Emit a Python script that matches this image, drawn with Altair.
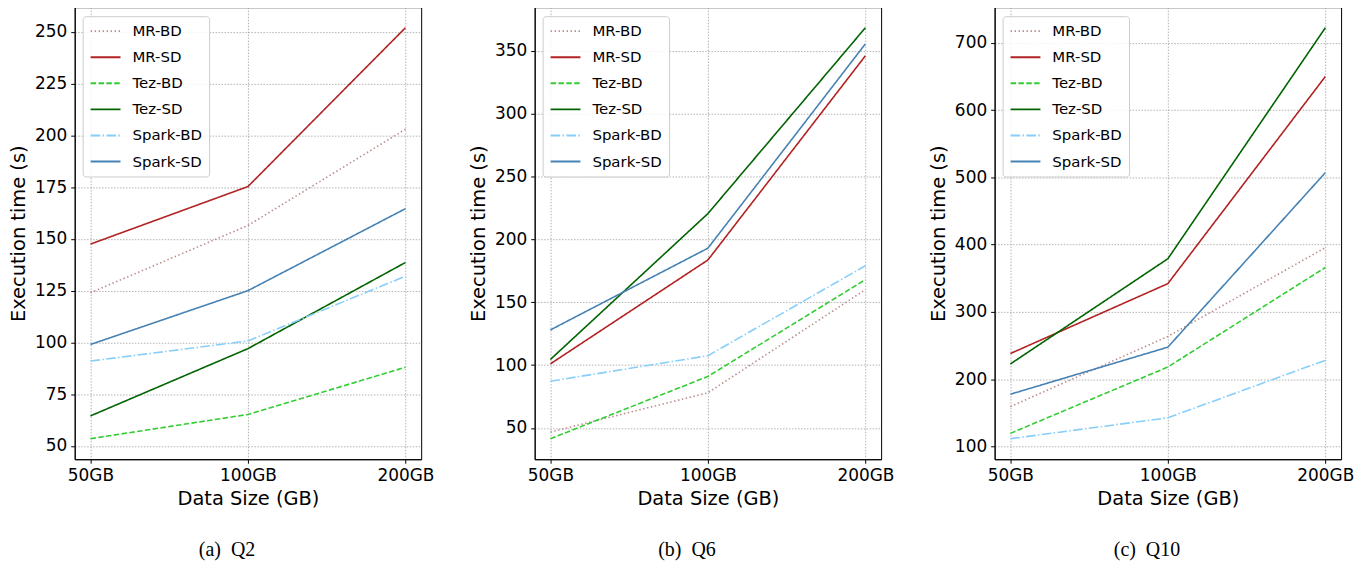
import altair as alt
import pandas as pd

sizes = ["50GB", "100GB", "200GB"]
series = ["MR-BD", "MR-SD", "Tez-BD", "Tez-SD", "Spark-BD", "Spark-SD"]
colors = ["#bc8f8f", "#b22222", "#32cd32", "#006400", "#87cefa", "#4682b4"]
dashes = [[1.5, 2.5], [1, 0], [5.5, 2.4], [1, 0], [9.6, 2.4, 1.5, 2.4], [1, 0]]

# Q2
q2_mr_bd = [124, 156.5, 203]
q2_mr_sd = [147.5, 175.3, 252]
q2_tez_bd = [53.5, 65.2, 88]
q2_tez_sd = [64.5, 97, 138.6]
q2_spark_bd = [91, 100.7, 132]
q2_spark_sd = [99, 125, 164.6]

# Q6
q6_mr_bd = [46.8, 78, 160]
q6_mr_sd = [101, 183.6, 346]
q6_tez_bd = [41.5, 91, 168]
q6_tez_sd = [104.5, 220.5, 368.3]
q6_spark_bd = [87.2, 107.5, 179]
q6_spark_sd = [128, 193, 355.5]

# Q10
q10_mr_bd = [159, 263.5, 395.5]
q10_mr_sd = [238, 342, 650]
q10_tez_bd = [119.3, 218, 366]
q10_tez_sd = [222.5, 379, 722.5]
q10_spark_bd = [111.4, 142.5, 228]
q10_spark_sd = [177.5, 247.5, 507]

q2_ticks = [50, 75, 100, 125, 150, 175, 200, 225, 250]
q6_ticks = [50, 100, 150, 200, 250, 300, 350]
q10_ticks = [100, 200, 300, 400, 500, 600, 700]


def make_df(lists):
    rows = []
    for name, vals in zip(series, lists):
        for s, v in zip(sizes, vals):
            rows.append({"series": name, "size": s, "time": v})
    return pd.DataFrame(rows)


def panel(lists, ticks, caption):
    df = make_df(lists)
    allv = [v for l in lists for v in l]
    lo, hi = min(allv), max(allv)
    m = (hi - lo) * 0.05
    legend = alt.Legend(
        title=None, orient="none", legendX=8, legendY=9,
        symbolType="stroke", symbolSize=900, symbolStrokeWidth=2,
        labelFont="DejaVu Sans", labelFontSize=15, labelColor="black",
        labelOffset=11, clipHeight=16, rowPadding=10.2, padding=7,
        fillColor="rgba(255,255,255,0.85)", strokeColor="#cccccc",
        cornerRadius=3,
    )
    return alt.Chart(df).mark_line(strokeWidth=1.6, clip=True).encode(
        x=alt.X("size:N", sort=sizes,
                scale=alt.Scale(type="point", padding=0.1, domain=sizes),
                axis=alt.Axis(title="Data Size (GB)", labelAngle=0)),
        y=alt.Y("time:Q", scale=alt.Scale(domain=[lo - m, hi + m], nice=False, zero=False),
                axis=alt.Axis(title="Execution time (s)", values=ticks)),
        color=alt.Color("series:N", sort=series,
                        scale=alt.Scale(domain=series, range=colors), legend=legend),
        strokeDash=alt.StrokeDash("series:N", sort=series,
                                  scale=alt.Scale(domain=series, range=dashes), legend=legend),
    ).properties(
        width=348, height=454,
        title=alt.TitleParams(caption, orient="bottom", anchor="middle", dx=-21, offset=33,
                              font="Liberation Serif", fontSize=20, fontWeight="normal", color="black"),
    )


p1 = panel([q2_mr_bd, q2_mr_sd, q2_tez_bd, q2_tez_sd, q2_spark_bd, q2_spark_sd], q2_ticks, "(a)\u00a0\u00a0Q2")
p2 = panel([q6_mr_bd, q6_mr_sd, q6_tez_bd, q6_tez_sd, q6_spark_bd, q6_spark_sd], q6_ticks, "(b)\u00a0\u00a0Q6")
p3 = panel([q10_mr_bd, q10_mr_sd, q10_tez_bd, q10_tez_sd, q10_spark_bd, q10_spark_sd], q10_ticks, "(c)\u00a0\u00a0Q10")

chart = alt.hconcat(p1, p2, p3, spacing=114, bounds="flush").resolve_scale(
    y="independent", color="independent", strokeDash="independent"
).resolve_legend(color="independent", strokeDash="independent").properties(
    padding={"left": 0, "top": -3, "right": 5, "bottom": 0}
).configure_view(stroke="black", strokeWidth=1).configure_axis(
    labelFont="DejaVu Sans", labelFontSize=17, labelColor="black",
    titleFont="DejaVu Sans", titleFontSize=19.5, titleFontWeight="normal", titleColor="black",
    domainColor="black", tickColor="black", tickSize=4, labelPadding=4, titlePadding=6,
    grid=True, gridColor="#a0a0a0", gridDash=[1.5, 1.5], gridWidth=0.8,
)

chart.save("out.html", embed_options={"renderer": "svg", "actions": False})
